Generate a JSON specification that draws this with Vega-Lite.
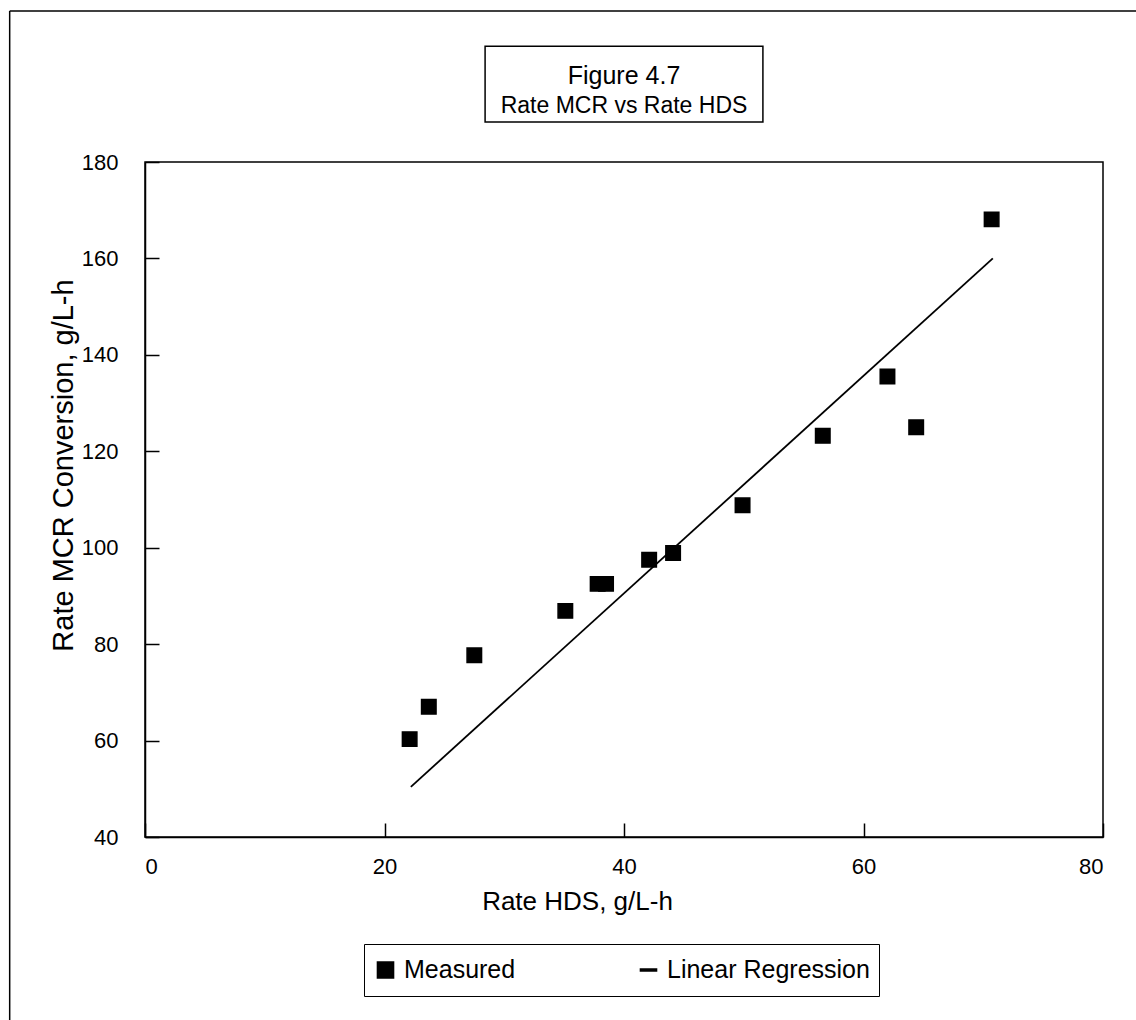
{
  "$schema": "https://vega.github.io/schema/vega-lite/v6.json",
  "width": 958,
  "height": 675,
  "autosize": {"type": "none"},
  "padding": {"left": 145, "top": 162, "right": 33, "bottom": 183},
  "background": "white",
  "config": {
    "font": "Liberation Sans",
    "view": {"stroke": "black", "strokeWidth": 1.5},
    "axis": {"domainColor": "black", "domainWidth": 1.5, "tickColor": "black", "tickWidth": 1.5, "labelColor": "black", "titleColor": "black", "labelFont": "Liberation Sans", "titleFont": "Liberation Sans", "titleFontWeight": "normal", "grid": false}
  },
  "title": {
    "text": "Figure 4.7",
    "subtitle": "Rate MCR vs Rate HDS",
    "frame": "group",
    "anchor": "middle",
    "offset": -108,
    "font": "Liberation Sans",
    "fontSize": 25,
    "fontWeight": "normal",
    "color": "black",
    "subtitleFont": "Liberation Sans",
    "subtitleFontSize": 23,
    "subtitleColor": "black",
    "subtitlePadding": 6
  },
  "data": {
    "values": [
      {"rate_hds": 22.1, "rate_mcr": 60.3, "series": "Measured"},
      {"rate_hds": 23.7, "rate_mcr": 67.0, "series": "Measured"},
      {"rate_hds": 27.5, "rate_mcr": 77.7, "series": "Measured"},
      {"rate_hds": 35.1, "rate_mcr": 86.9, "series": "Measured"},
      {"rate_hds": 37.8, "rate_mcr": 92.5, "series": "Measured"},
      {"rate_hds": 38.5, "rate_mcr": 92.5, "series": "Measured"},
      {"rate_hds": 42.1, "rate_mcr": 97.5, "series": "Measured"},
      {"rate_hds": 44.1, "rate_mcr": 98.9, "series": "Measured"},
      {"rate_hds": 49.9, "rate_mcr": 108.8, "series": "Measured"},
      {"rate_hds": 56.6, "rate_mcr": 123.2, "series": "Measured"},
      {"rate_hds": 62.0, "rate_mcr": 135.5, "series": "Measured"},
      {"rate_hds": 64.4, "rate_mcr": 125.0, "series": "Measured"},
      {"rate_hds": 70.7, "rate_mcr": 168.1, "series": "Measured"},
      {"rate_hds": 22.2, "rate_mcr": 50.4, "series": "Linear Regression"},
      {"rate_hds": 70.8, "rate_mcr": 160.0, "series": "Linear Regression"}
    ]
  },
  "layer": [
    {
      "data": {"values": [{}]},
      "mark": {"type": "rule", "color": "black", "strokeWidth": 1.5, "clip": false},
      "encoding": {
        "x": {"datum": -11.3, "type": "quantitative", "scale": {"domain": [0, 80], "nice": false}},
        "y": {"datum": 211.3, "type": "quantitative", "scale": {"domain": [40, 180], "nice": false}},
        "y2": {"datum": 2.0}
      }
    },
    {
      "data": {"values": [{}]},
      "mark": {"type": "rule", "color": "black", "strokeWidth": 1.5, "clip": false},
      "encoding": {
        "x": {"datum": -11.3, "type": "quantitative"},
        "x2": {"datum": 82.8},
        "y": {"datum": 211.3, "type": "quantitative"}
      }
    },
    {
      "data": {"values": [{}]},
      "mark": {"type": "rect", "fill": "transparent", "stroke": "black", "strokeWidth": 1.5, "clip": false},
      "encoding": {
        "x": {"datum": 28.4, "type": "quantitative"},
        "x2": {"datum": 51.6},
        "y": {"datum": 204.0, "type": "quantitative"},
        "y2": {"datum": 188.3}
      }
    },
    {
      "transform": [{"filter": "datum.series === 'Linear Regression'"}],
      "mark": {"type": "line", "color": "black", "strokeWidth": 1.8},
      "encoding": {
        "x": {"field": "rate_hds", "type": "quantitative"},
        "y": {"field": "rate_mcr", "type": "quantitative"}
      }
    },
    {
      "transform": [{"filter": "datum.series === 'Measured'"}],
      "mark": {"type": "point", "filled": true, "fill": "black", "stroke": "black", "strokeWidth": 1.5, "opacity": 1, "size": 210},
      "encoding": {
        "x": {
          "field": "rate_hds",
          "type": "quantitative",
          "scale": {"domain": [0, 80], "nice": false},
          "axis": {
            "values": [0, 20, 40, 60, 80],
            "title": "Rate HDS, g/L-h",
            "tickSize": -14,
            "labelPadding": 33,
            "labelFontSize": 22,
            "titleFontSize": 26,
            "titleX": 432,
            "titleY": 64,
            "titleAlign": "center",
            "titleBaseline": "middle"
          }
        },
        "y": {
          "field": "rate_mcr",
          "type": "quantitative",
          "scale": {"domain": [40, 180], "nice": false},
          "axis": {
            "values": [40, 60, 80, 100, 120, 140, 160, 180],
            "title": "Rate MCR Conversion, g/L-h",
            "tickSize": -14,
            "labelPadding": 41,
            "labelFontSize": 22,
            "titleFontSize": 29,
            "titleX": -82,
            "titleY": 303,
            "titleAngle": -90,
            "titleAlign": "center",
            "titleBaseline": "middle"
          }
        },
        "shape": {
          "field": "series",
          "type": "nominal",
          "scale": {"domain": ["Measured", "Linear Regression"], "range": ["square", "M-1,-0.12L1,-0.12L1,0.12L-1,0.12Z"]},
          "legend": {
            "title": null,
            "orient": "none",
            "legendX": 219,
            "legendY": 782,
            "direction": "horizontal",
            "columns": 2,
            "columnPadding": 120,
            "padding": 9,
            "clipHeight": 34,
            "strokeColor": "black",
            "fillColor": "white",
            "symbolSize": 260,
            "symbolFillColor": "black",
            "labelFontSize": 25,
            "labelLimit": 400,
            "labelColor": "black",
            "labelFont": "Liberation Sans",
            "labelOffset": 6,
            "encode": {
              "legend": {"update": {"strokeWidth": {"value": 1.5}}}
            }
          }
        }
      }
    }
  ]
}
